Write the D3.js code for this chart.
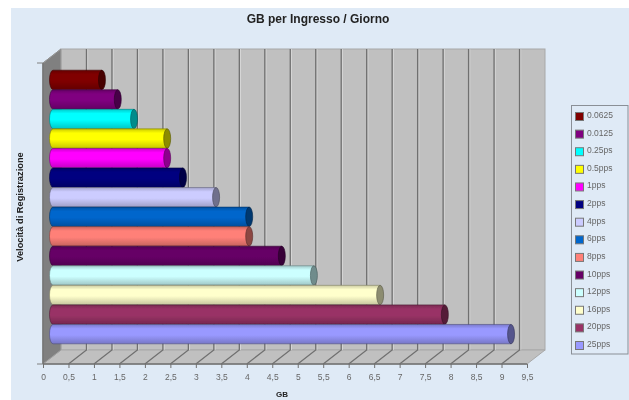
<!DOCTYPE html>
<html>
<head>
<meta charset="utf-8">
<script src="https://cdn.jsdelivr.net/npm/d3@7/dist/d3.min.js"></script>
<style>
  html, body { margin: 0; padding: 0; background: #fff; }
  text { font-family: "Liberation Sans", Arial, sans-serif; }
</style>
</head>
<body>
<div id="chart"></div>
<script>
const categories = ['0.0625', '0.0125', '0.25ps', '0.5pps', '1pps', '2pps', '4pps', '6pps', '8pps', '10pps', '12pps', '16pps', '20pps', '25pps'];
const gbValues = [1.02, 1.33, 1.65, 2.30, 2.30, 2.61, 3.26, 3.91, 3.91, 4.55, 5.18, 6.48, 7.75, 9.05];
const barColors = ['#800000', '#800080', '#00ffff', '#ffff00', '#ff00ff', '#000080', '#ccccff', '#0066cc', '#ff8078', '#660066', '#ccffff', '#ffffcc', '#993366', '#9999ff'];
const xTickValues = [0, 0.5, 1, 1.5, 2, 2.5, 3, 3.5, 4, 4.5, 5, 5.5, 6, 6.5, 7, 7.5, 8, 8.5, 9, 9.5];

const W = 629, H = 400;
const depthX = 18, depthY = 14;
const barDepth = 7;

const svg = d3.select('#chart').append('svg')
  .attr('width', W).attr('height', H)
  .style('display', 'block');

const defs = svg.append('defs');
defs.append('filter').attr('id', 'soft')
  .attr('x', 0).attr('y', 0).attr('width', 1).attr('height', 1)
  .append('feGaussianBlur').attr('stdDeviation', 0.4);

// scale the channels, d3's darker() leaves pale colours too light for the caps
const shade = (c, k) => {
  const r = d3.rgb(c);
  return d3.rgb(r.r * k, r.g * k, r.b * k).formatHex();
};

// one vertical shading per bar colour
barColors.forEach((c, i) => {
  const grad = defs.append('linearGradient').attr('id', 'bar' + i)
    .attr('x1', 0).attr('x2', 0).attr('y1', 0).attr('y2', 1);
  grad.append('stop').attr('offset', '0%').attr('stop-color', shade(c, 0.8));
  grad.append('stop').attr('offset', '22%').attr('stop-color', c);
  grad.append('stop').attr('offset', '55%').attr('stop-color', c);
  grad.append('stop').attr('offset', '100%').attr('stop-color', shade(c, 0.78));
});

const root = svg.append('g').attr('filter', 'url(#soft)');

root.append('rect').attr('x', 11).attr('y', 8)
  .attr('width', W - 11).attr('height', H - 8).attr('fill', '#dfeaf6');

const x = d3.scaleLinear().domain([0, 9.5]).range([43, 527]);
const y = d3.scaleBand().domain(categories).range([70, 344]).padding(0.01);

const plotTop = 63, plotBottom = 364;
const left = x.range()[0], right = x.range()[1];

// back wall, floor, side wall
root.append('rect').attr('x', left + depthX).attr('y', plotTop - depthY)
  .attr('width', right - left).attr('height', plotBottom - plotTop)
  .attr('fill', '#c0c0c0').attr('stroke', '#a8a8a8');
root.append('polygon').attr('fill', '#c0c0c0').attr('stroke', '#a8a8a8')
  .attr('points', [[left, plotBottom], [right, plotBottom], [right + depthX, plotBottom - depthY], [left + depthX, plotBottom - depthY]].join(' '));
root.append('polygon').attr('fill', '#808080').attr('stroke', '#a0a0a0')
  .attr('points', [[left, plotTop], [left + depthX, plotTop - depthY], [left + depthX, plotBottom - depthY], [left, plotBottom]].join(' '));

// gridlines on wall and floor
const grid = root.append('g').attr('fill', 'none');
xTickValues.forEach(v => {
  if (v > 0 && v < 9.5) {
    grid.append('path')
      .attr('d', `M${x(v) + depthX + 1.2},${plotTop - depthY}V${plotBottom - depthY}`)
      .attr('stroke', '#e0e0e0').attr('stroke-width', 1).attr('opacity', 0.7);
    grid.append('path')
      .attr('d', `M${x(v) + depthX},${plotTop - depthY}V${plotBottom - depthY}L${x(v)},${plotBottom}`)
      .attr('stroke', '#707070').attr('stroke-width', 1.3);
  }
});
grid.append('path').attr('d', `M${left},${plotBottom}H${right}`).attr('stroke', '#707070').attr('stroke-width', 1.5);
grid.append('path').attr('d', `M${left},${plotTop}V${plotBottom}`).attr('stroke', '#707070').attr('stroke-width', 1.5);
grid.append('path').attr('d', `M${left},${plotTop}L${left + depthX},${plotTop - depthY}`).attr('stroke', '#909090');
grid.append('path').attr('d', `M${left - 6},${plotTop}H${left}M${left - 6},${plotBottom}H${left}`).attr('stroke', '#808080');

// bars as cylinders
const bars = root.append('g').selectAll('g').data(categories).join('g');
const x0 = left + barDepth + 3;
bars.append('path')
  .attr('d', (d, i) => {
    const t = y(d), h = y.bandwidth(), xe = x(gbValues[i]) + barDepth;
    return `M${x0},${t}H${xe}V${t + h}H${x0}A3.5,${h / 2} 0 0 1 ${x0},${t}Z`;
  })
  .attr('fill', (d, i) => `url(#bar${i})`)
  .attr('stroke', (d, i) => shade(barColors[i], 0.5))
  .attr('stroke-width', 0.6);
bars.append('ellipse')
  .attr('cx', (d, i) => x(gbValues[i]) + barDepth)
  .attr('cy', d => y(d) + y.bandwidth() / 2)
  .attr('rx', 3.5)
  .attr('ry', y.bandwidth() / 2)
  .attr('fill', (d, i) => shade(barColors[i], 0.55))
  .attr('stroke', (d, i) => shade(barColors[i], 0.35))
  .attr('stroke-width', 0.6);

// x axis
const xAxis = root.append('g').attr('transform', `translate(0,${plotBottom})`)
  .call(d3.axisBottom(x).tickValues(xTickValues)
    .tickFormat(d => String(d).replace('.', ','))
    .tickSize(4).tickPadding(6));
xAxis.select('.domain').remove();
xAxis.selectAll('.tick line').attr('stroke', '#707070');
xAxis.selectAll('.tick text').attr('fill', '#666').attr('font-size', 8.5)
  .style('font-family', '"Liberation Sans", Arial, sans-serif');

// titles
root.append('text').attr('x', 318).attr('y', 23).attr('text-anchor', 'middle')
  .attr('font-size', 12).attr('font-weight', 'bold').attr('fill', '#222')
  .text('GB per Ingresso / Giorno');
root.append('text').attr('x', 282).attr('y', 397).attr('text-anchor', 'middle')
  .attr('font-size', 8).attr('font-weight', 'bold').attr('fill', '#222')
  .text('GB');
root.append('text').attr('transform', 'translate(23,207) rotate(-90)').attr('text-anchor', 'middle')
  .attr('font-size', 9.3).attr('font-weight', 'bold').attr('fill', '#222')
  .text('Velocità di Registrazione');

// legend
const legend = root.append('g');
legend.append('rect').attr('x', 571.5).attr('y', 105.5).attr('width', 56.5).attr('height', 248.5)
  .attr('fill', '#dfeaf6').attr('stroke', '#8a8f96');
const legendY = d3.scalePoint().domain(categories).range([116, 345]);
const items = legend.selectAll('g').data(categories).join('g')
  .attr('transform', d => `translate(0,${legendY(d)})`);
items.append('rect').attr('x', 575.5).attr('y', -3.5).attr('width', 8).attr('height', 8)
  .attr('fill', (d, i) => barColors[i]).attr('stroke', '#777');
items.append('text').attr('x', 587).attr('y', 2).attr('font-size', 8.5).attr('fill', '#666')
  .text(d => d);
</script>
</body>
</html>
